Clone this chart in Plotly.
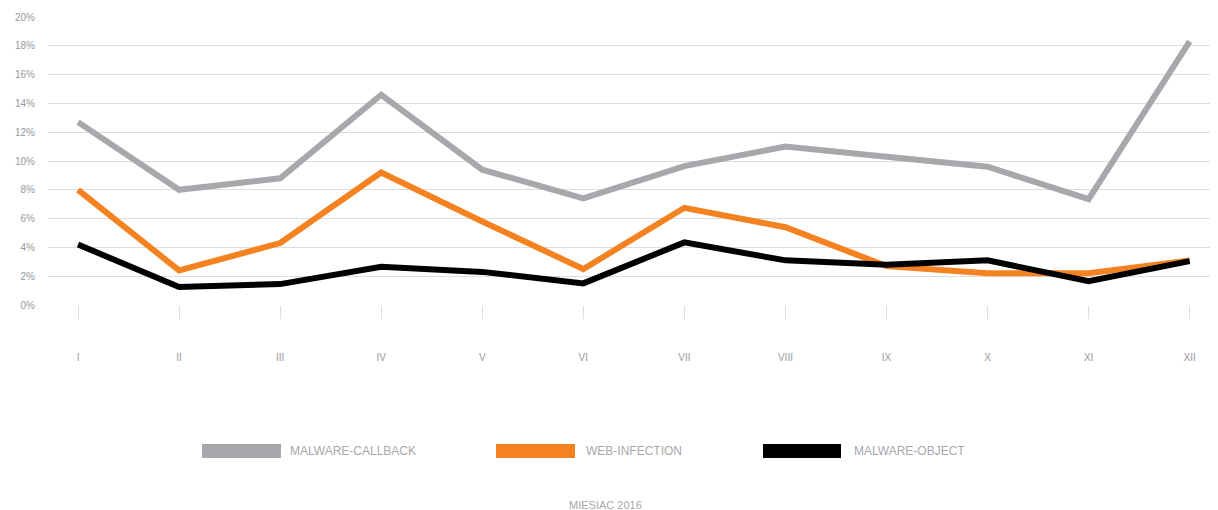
import plotly.graph_objects as go

months = ["I", "II", "III", "IV", "V", "VI", "VII", "VIII", "IX", "X", "XI", "XII"]
malware_callback = [12.7, 8.0, 8.8, 14.6, 9.4, 7.4, 9.65, 11.0, 10.3, 9.6, 7.35, 18.3]
web_infection = [8.0, 2.4, 4.3, 9.2, 5.8, 2.5, 6.75, 5.4, 2.7, 2.2, 2.2, 3.1]
malware_object = [4.2, 1.25, 1.45, 2.65, 2.3, 1.5, 4.35, 3.1, 2.8, 3.1, 1.65, 3.05]

series = [
    ("MALWARE-CALLBACK", malware_callback, "#A7A8AB"),
    ("WEB-INFECTION", web_infection, "#F58220"),
    ("MALWARE-OBJECT", malware_object, "#000000"),
]

idx = list(range(len(months)))

fig = go.Figure()
for name, vals, color in series:
    fig.add_trace(
        go.Scatter(
            x=idx,
            y=vals,
            mode="lines",
            name=name,
            line=dict(color=color, width=6),
            showlegend=False,
        )
    )

# page offset of the plot div (body margin) is 8px
# plot area on the page: x 48..1218, y 17..305
PL, PR, PT, PB = 48, 1218, 17, 305


def px(x):
    return (x - PL) / (PR - PL)


def py(y):
    return (PB - y) / (PB - PT)


# hand-drawn legend: wide flat swatches like the original
legend_pos = [(202, 281, 288), (496, 575, 584), (763, 841, 852)]
for (name, _, color), (x0, x1, tx) in zip(series, legend_pos):
    fig.add_shape(
        type="rect", xref="paper", yref="paper",
        x0=px(x0), x1=px(x1), y0=py(458), y1=py(444),
        fillcolor=color, line=dict(width=0),
    )
    fig.add_annotation(
        xref="paper", yref="paper",
        x=px(tx), y=py(451),
        text=name, showarrow=False, xanchor="left", yanchor="middle",
        font=dict(size=12, color="#A7A8AB", family="Liberation Sans Narrow, Liberation Sans, Arial"),
    )

fig.add_annotation(
    xref="paper", yref="paper",
    x=px(605), y=py(505),
    text="MIESIAC 2016", showarrow=False, xanchor="center", yanchor="middle",
    font=dict(size=11, color="#A7A8AB"),
)

fig.update_layout(
    width=1210,
    height=502,
    margin=dict(l=PL - 8, r=0, t=PT - 8, b=502 - (PB - 8)),
    plot_bgcolor="white",
    paper_bgcolor="white",
    font=dict(family="Liberation Sans, Arial, sans-serif", color="#999999"),
    xaxis=dict(
        tickmode="array",
        tickvals=idx,
        ticktext=months,
        range=[-0.297, 11.28],
        showgrid=False,
        zeroline=False,
        showline=False,
        ticks="outside",
        ticklen=13,
        tickcolor="#DDDDDD",
        tickwidth=1,
        ticklabelstandoff=30,
        tickfont=dict(size=10, color="#999999"),
    ),
    yaxis=dict(
        range=[0, 20],
        dtick=2,
        ticksuffix="%",
        showgrid=True,
        gridcolor="#DDDDDD",
        gridwidth=1,
        zeroline=False,
        showline=False,
        ticklabelstandoff=12,
        tickfont=dict(size=10, color="#999999"),
    ),
)

fig.write_html("out.html")
